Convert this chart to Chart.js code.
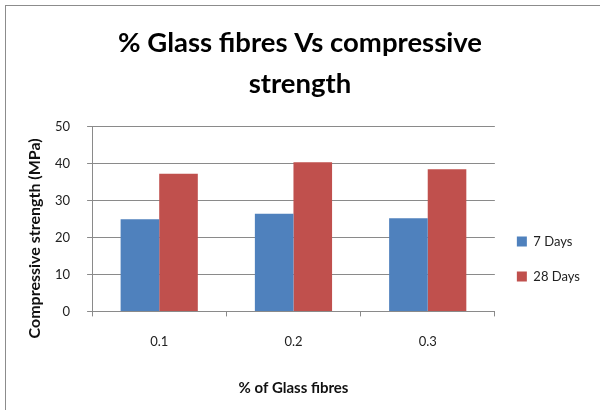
<!DOCTYPE html>
<html>
<head>
<meta charset="utf-8">
<script src="https://cdn.jsdelivr.net/npm/chart.js@4"></script>
<style>
    html, body { margin: 0; padding: 0; background: #fff; }
    #wrap { position: relative; width: 600px; height: 410px; }
    #frame {
        position: absolute; left: 5px; top: 5px; right: -2px; bottom: -2px;
        border-left: 1px solid #8c8c8c; border-top: 1px solid #8c8c8c;
        pointer-events: none;
    }
</style>
</head>
<body>
<div id="wrap">
    <canvas id="chart-canvas" width="600" height="410"></canvas>
    <div id="frame"></div>
</div>
<script>
const categories = ['0.1', '0.2', '0.3'];
const days7 = [24.9, 26.4, 25.2];
const days28 = [37.2, 40.3, 38.4];
const yTicks = [0, 10, 20, 30, 40, 50];

const FONT = 'Lato';
const GRID = '#8a8a8a';

document.addEventListener('DOMContentLoaded', function () {
    const ctx = document.getElementById('chart-canvas').getContext('2d');

    new Chart(ctx, {
        type: 'bar',
        data: {
            labels: categories,
            datasets: [
                { label: '7 Days', data: days7, backgroundColor: '#4f81bd' },
                { label: '28 Days', data: days28, backgroundColor: '#c0504d' }
            ]
        },
        options: {
            responsive: false,
            animation: false,
            categoryPercentage: 0.575,
            barPercentage: 1,
            layout: { padding: { left: 10, right: 10, top: 0, bottom: 9 } },
            scales: {
                x: {
                    grid: { offset: true, drawOnChartArea: false, tickLength: 5, color: GRID },
                    border: { color: GRID },
                    ticks: { padding: 18, color: '#222', font: { family: FONT, size: 13 } },
                    title: {
                        display: true,
                        text: '% of Glass fibres',
                        color: '#111',
                        padding: { top: 11, bottom: 4 },
                        font: { family: FONT, size: 15, weight: 'bold', lineHeight: 1.2 }
                    }
                },
                y: {
                    min: 0,
                    max: 50,
                    afterBuildTicks: (axis) => { axis.ticks = yTicks.map(v => ({ value: v })); },
                    grid: { tickLength: 5, color: GRID },
                    border: { color: GRID },
                    ticks: { padding: 17, color: '#222', font: { family: FONT, size: 13 } },
                    title: {
                        display: true,
                        // Excel sits this title a little below the plot's middle
                        text: 'Compressive strength (MPa)          ',
                        color: '#111',
                        padding: { top: 15.4, bottom: -6.6 },
                        font: { family: FONT, size: 16, weight: 'bold', lineHeight: 1.2 }
                    }
                }
            },
            plugins: {
                title: {
                    display: true,
                    text: ['% Glass fibres Vs compressive', 'strength'],
                    color: '#000',
                    padding: { top: 23, bottom: 22 },
                    font: { family: FONT, size: 27.5, weight: 'bold', lineHeight: 1.48 }
                },
                legend: {
                    position: 'right',
                    align: 'start',
                    title: {
                        display: true,
                        text: ' ',
                        padding: { top: 203, bottom: 0 },
                        font: { family: FONT, size: 10, lineHeight: 1 }
                    },
                    labels: {
                        boxWidth: 10,
                        boxHeight: 10,
                        padding: 22,
                        color: '#222',
                        font: { family: FONT, size: 13 }
                    }
                },
                tooltip: { enabled: false }
            }
        }
    });
});
</script>
</body>
</html>
